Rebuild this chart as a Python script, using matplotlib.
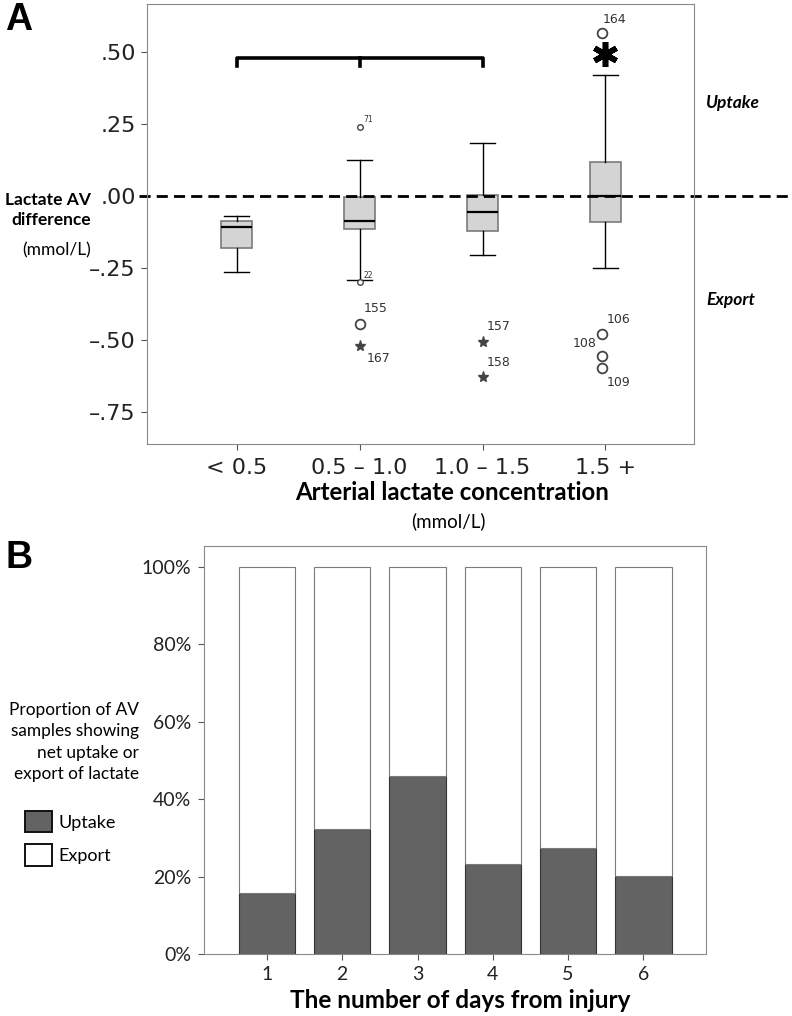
import matplotlib.pyplot as plt
from matplotlib.patches import Patch

# ---- panel A data ----
groups = ["< 0.5", "0.5 \u2013 1.0", "1.0 \u2013 1.5", "1.5 +"]
whis_lo = [-0.264, -0.293, -0.204, -0.251]
q1 = [-0.180, -0.116, -0.122, -0.090]
median = [-0.108, -0.088, -0.054, 0.0]
q3 = [-0.088, -0.002, 0.005, 0.119]
whis_hi = [-0.070, 0.124, 0.183, 0.421]

out_group = [2, 2, 2, 2, 3, 3, 4, 4, 4, 4]
out_value = [0.242, -0.299, -0.444, -0.521, -0.507, -0.630, 0.566, -0.479, -0.556, -0.599]
out_kind = ["o", "o", "o", "*", "*", "*", "o", "o", "o", "o"]
out_label = ["71", "22", "155", "167", "157", "158", "164", "106", "108", "109"]

ytick_vals = [0.50, 0.25, 0.0, -0.25, -0.50, -0.75]
ytick_text = [".50", ".25", ".00", "\u2013.25", "\u2013.50", "\u2013.75"]

# ---- panel B data ----
days = [1, 2, 3, 4, 5, 6]
uptake = [0.158, 0.323, 0.459, 0.232, 0.273, 0.201]
export = [1 - u for u in uptake]

FONT = "Lato"
TICKFONT = "DejaVu Sans"
fig = plt.figure(figsize=(7.92, 10.16), dpi=100)

# -------------------------
# A. box plot
# -------------------------
ax = fig.add_axes([147 / 792, 1 - 444 / 1016, 547 / 792, 440 / 1016])
stats = []
for i in range(len(groups)):
    stats.append(dict(whislo=whis_lo[i], q1=q1[i], med=median[i], q3=q3[i],
                      whishi=whis_hi[i], fliers=[]))
ax.bxp(stats, positions=[1, 2, 3, 4], widths=0.25, patch_artist=True,
       boxprops=dict(facecolor="#d4d4d4", edgecolor="#7a7a7a", linewidth=1.2),
       medianprops=dict(color="black", linewidth=1.6),
       whiskerprops=dict(color="black", linewidth=1.0),
       capprops=dict(color="black", linewidth=1.0),
       capwidths=0.2, showfliers=False)

# label offsets (points) and alignment for each outlier id
offsets = {"71": (3, 5, "left"), "22": (3, 5, "left"), "155": (3, 11, "left"),
           "167": (5, -9, "left"), "157": (3, 11, "left"), "158": (3, 11, "left"),
           "164": (0, 10, "left"), "106": (3, 10, "left"), "108": (-4, 9, "right"),
           "109": (3, -10, "left")}
for g, v, k, lab in zip(out_group, out_value, out_kind, out_label):
    small = lab in ("71", "22")
    xg = g - 0.025 if g == 4 else g
    if k == "o":
        ax.plot(xg, v, "o", mfc="white", mec="#444444", ms=4 if small else 7, mew=1.0 if small else 1.3)
    else:
        ax.plot(xg, v, "*", color="#444444", ms=8)
    dx, dy, ha = offsets[lab]
    ax.annotate(lab, (xg, v), xytext=(dx, dy), textcoords="offset points",
                fontsize=5.5 if small else 9, color="#333333", family="DejaVu Sans",
                va="center", ha=ha)

# significance bracket and marker
ax.plot([1, 1, 3, 3], [0.452, 0.481, 0.481, 0.452], color="black", lw=2.6)
ax.plot([2, 2], [0.481, 0.452], color="black", lw=2.6)
ax.plot(4, 0.493, marker=(6, 2, 0), ms=18, mew=4, color="black")

# zero line reaching outside the box
ax.plot([-0.015, 1.18], [0, 0], transform=ax.get_yaxis_transform(), clip_on=False,
        color="black", lw=2, ls=(0, (4, 2.2)))

ax.set_xlim(0.27, 4.72)
ax.set_ylim(-0.862, 0.668)
ax.set_yticks(ytick_vals)
ax.set_yticklabels(ytick_text, fontsize=16, family=TICKFONT, color="#222222")
ax.set_xticks([1, 2, 3, 4])
ax.set_xticklabels(groups, fontsize=16, family=TICKFONT, color="#222222")
ax.tick_params(length=4, color="#555555", pad=4)
ax.tick_params(axis="x", pad=6)
for s in ax.spines.values():
    s.set_color("#8a8a8a")

fig.text(91 / 792, 1 - 210 / 1016, "Lactate AV\ndifference", ha="right", va="center",
         fontsize=12.5, fontweight="bold", family=FONT, linespacing=1.3)
fig.text(91 / 792, 1 - 250 / 1016, "(mmol/L)", ha="right", va="center", fontsize=12.5, family=FONT)
fig.text(706 / 792, 1 - 103 / 1016, "Uptake", ha="left", va="center", fontsize=12.5,
         fontweight="bold", style="italic", family=FONT)
fig.text(706 / 792, 1 - 300 / 1016, "Export", ha="left", va="center", fontsize=12.5,
         fontweight="bold", style="italic", family=FONT)
fig.text(452 / 792, 1 - 493 / 1016, "Arterial lactate concentration", ha="center", va="center",
         fontsize=17.3, fontweight="bold", family=FONT)
fig.text(448 / 792, 1 - 521 / 1016, "(mmol/L)", ha="center", va="center", fontsize=13.5, family=FONT)
fig.text(5 / 792, 1 - 20 / 1016, "A", ha="left", va="center", fontsize=27, fontweight="bold",
         family="Liberation Sans")

# -------------------------
# B. stacked bars
# -------------------------
bx = fig.add_axes([204 / 792, 1 - 954 / 1016, 502 / 792, 408 / 1016])
bx.bar(days, uptake, width=0.75, color="#636363", edgecolor="#333333", linewidth=0.8)
bx.bar(days, export, bottom=uptake, width=0.75, color="white", edgecolor="#7a7a7a", linewidth=0.8)
bx.set_xlim(0.163, 6.833)
bx.set_ylim(0, 1.054)
bx.set_yticks([0, 0.2, 0.4, 0.6, 0.8, 1.0])
bx.set_yticklabels(["0%", "20%", "40%", "60%", "80%", "100%"], fontsize=14, family=FONT, color="#222222")
bx.set_xticks(days)
bx.set_xticklabels([str(d) for d in days], fontsize=14, family=FONT, color="#222222")
bx.tick_params(length=4, color="#555555", pad=5)
for s in bx.spines.values():
    s.set_color("#8a8a8a")
bx.set_xlabel("The number of days from injury", fontsize=17.5, fontweight="bold", family=FONT, labelpad=5)
bx.xaxis.set_label_coords((460 - 204) / 502, -0.085)

fig.text(139 / 792, 1 - 742 / 1016, "Proportion of AV\nsamples showing\nnet uptake or\nexport of lactate",
         ha="right", va="center", fontsize=12.4, family=FONT, linespacing=1.42)
fig.legend(handles=[Patch(facecolor="#636363", edgecolor="#111111", lw=1.4, label="Uptake"),
                    Patch(facecolor="white", edgecolor="#111111", lw=1.4, label="Export")],
           loc="upper left", bbox_to_anchor=(25 / 792, 1 - 811 / 1016), frameon=False,
           prop=dict(family=FONT, size=13), handlelength=1.5, handleheight=1.45,
           handletextpad=0.35, labelspacing=0.65, borderpad=0, borderaxespad=0)
fig.text(5 / 792, 1 - 558 / 1016, "B", ha="left", va="center", fontsize=27, fontweight="bold",
         family="Liberation Sans")

fig.savefig("out.png", dpi=100)
